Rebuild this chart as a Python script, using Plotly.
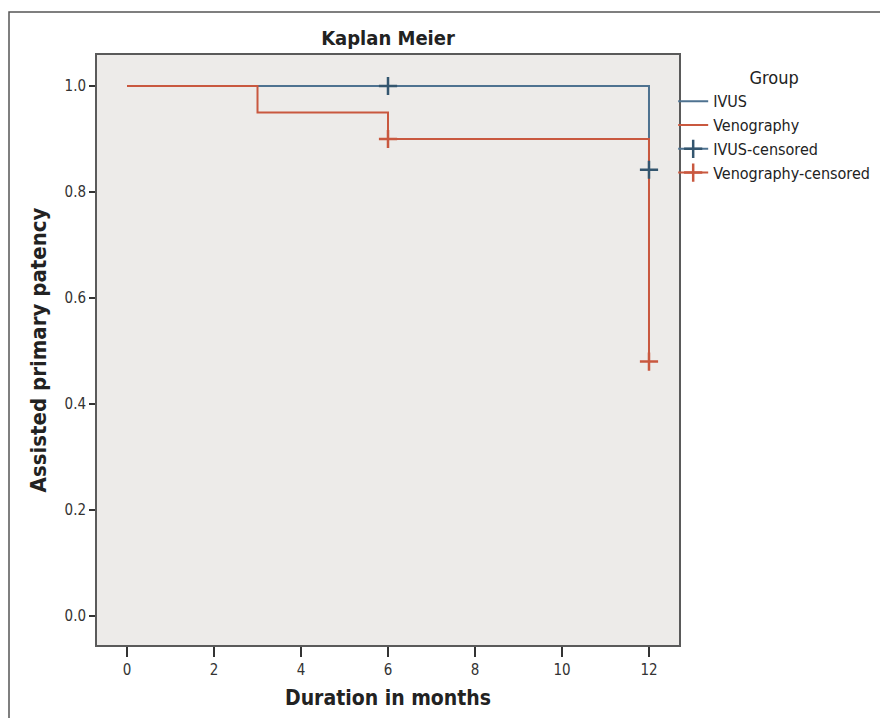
import plotly.graph_objects as go

# Data
groups = ["IVUS", "Venography"]
ivus_time = [0, 12]
ivus_surv = [1.0, 0.842]
ven_time = [0, 3, 6, 12]
ven_surv = [1.0, 0.95, 0.90, 0.48]
ivus_cens_time = [6, 12]
ivus_cens_surv = [1.0, 0.842]
ven_cens_time = [6, 12]
ven_cens_surv = [0.90, 0.48]
x_ticks = [0, 2, 4, 6, 8, 10, 12]
y_ticks = [0.0, 0.2, 0.4, 0.6, 0.8, 1.0]

BLUE = "#4E7290"
RED = "#C9583F"
FONT = "DejaVu Sans Condensed, Open Sans, sans-serif"

# plot-area pixel box (page has an 8px body offset)
L, T, PW, PH = 89, 47, 582, 590
W, H = 888, 718


def gapped(xs, ys):
    gx, gy = [], []
    for i, (a, b) in enumerate(zip(xs, ys)):
        if i:
            gx.append(None)
            gy.append(None)
        gx.append(a)
        gy.append(b)
    return gx, gy


fig = go.Figure()
fig.add_trace(go.Scatter(x=ivus_time, y=ivus_surv, mode="lines", line=dict(shape="hv", color=BLUE, width=2),
                         name="IVUS"))
fig.add_trace(go.Scatter(x=ven_time, y=ven_surv, mode="lines", line=dict(shape="hv", color=RED, width=2),
                         name="Venography"))
cx, cy = gapped(ivus_cens_time, ivus_cens_surv)
fig.add_trace(go.Scatter(x=cx, y=cy, mode="lines+markers", connectgaps=False,
                         line=dict(color=BLUE, width=2),
                         marker=dict(symbol="cross-thin", size=13, line=dict(color="#34566F", width=2.5)),
                         name="IVUS-censored"))
cx, cy = gapped(ven_cens_time, ven_cens_surv)
fig.add_trace(go.Scatter(x=cx, y=cy, mode="lines+markers", connectgaps=False,
                         line=dict(color=RED, width=2),
                         marker=dict(symbol="cross-thin", size=13, line=dict(color=RED, width=2.5)),
                         name="Venography-censored"))

axis_common = dict(showline=True, mirror=True, linecolor="#5a5a5a", linewidth=2, showgrid=False,
                   zeroline=False, ticks="outside", tickcolor="#333333", tickwidth=1.5,
                   tickfont=dict(family=FONT, size=15, color="#333333"))

fig.update_layout(
    width=W, height=H,
    margin=dict(l=L, r=W - L - PW, t=T, b=H - T - PH),
    paper_bgcolor="white",
    plot_bgcolor="#EDEBE9",
    font=dict(family=FONT, color="#222222"),
    title=dict(text="<b>Kaplan Meier</b>", x=0.5, xref="paper", xanchor="center",
               y=1 - 30 / H, yanchor="middle", yref="container",
               font=dict(family=FONT, size=20, color="#222222")),
    xaxis=dict(range=[-0.69, 12.69], tickvals=x_ticks, ticklen=10,
               title=dict(text="<b>Duration in months</b>", standoff=12,
                          font=dict(family=FONT, size=21, color="#222222")),
               **axis_common),
    yaxis=dict(range=[-0.0547, 1.0585], tickvals=y_ticks, tickformat=".1f", ticklen=6,
               title=dict(text="<b>Assisted primary patency</b>", standoff=12,
                          font=dict(family=FONT, size=22, color="#222222")),
               **axis_common),
    legend=dict(x=0.99, xanchor="left", y=0.99, yanchor="top", bgcolor="rgba(0,0,0,0)",
                font=dict(family=FONT, size=16, color="#222222"),
                title=dict(text="Group", side="top center", font=dict(family=FONT, size=18, color="#222222")),
                tracegroupgap=0),
    shapes=[dict(type="rect", xref="paper", yref="paper",
                 x0=(1 - L) / PW, x1=(900 - L) / PW,
                 y0=-(H + 10 - T - PH) / PH, y1=1 + (T - 4) / PH,
                 line=dict(color="#555555", width=1.5), layer="below")],
)

fig.write_html("out.html")
